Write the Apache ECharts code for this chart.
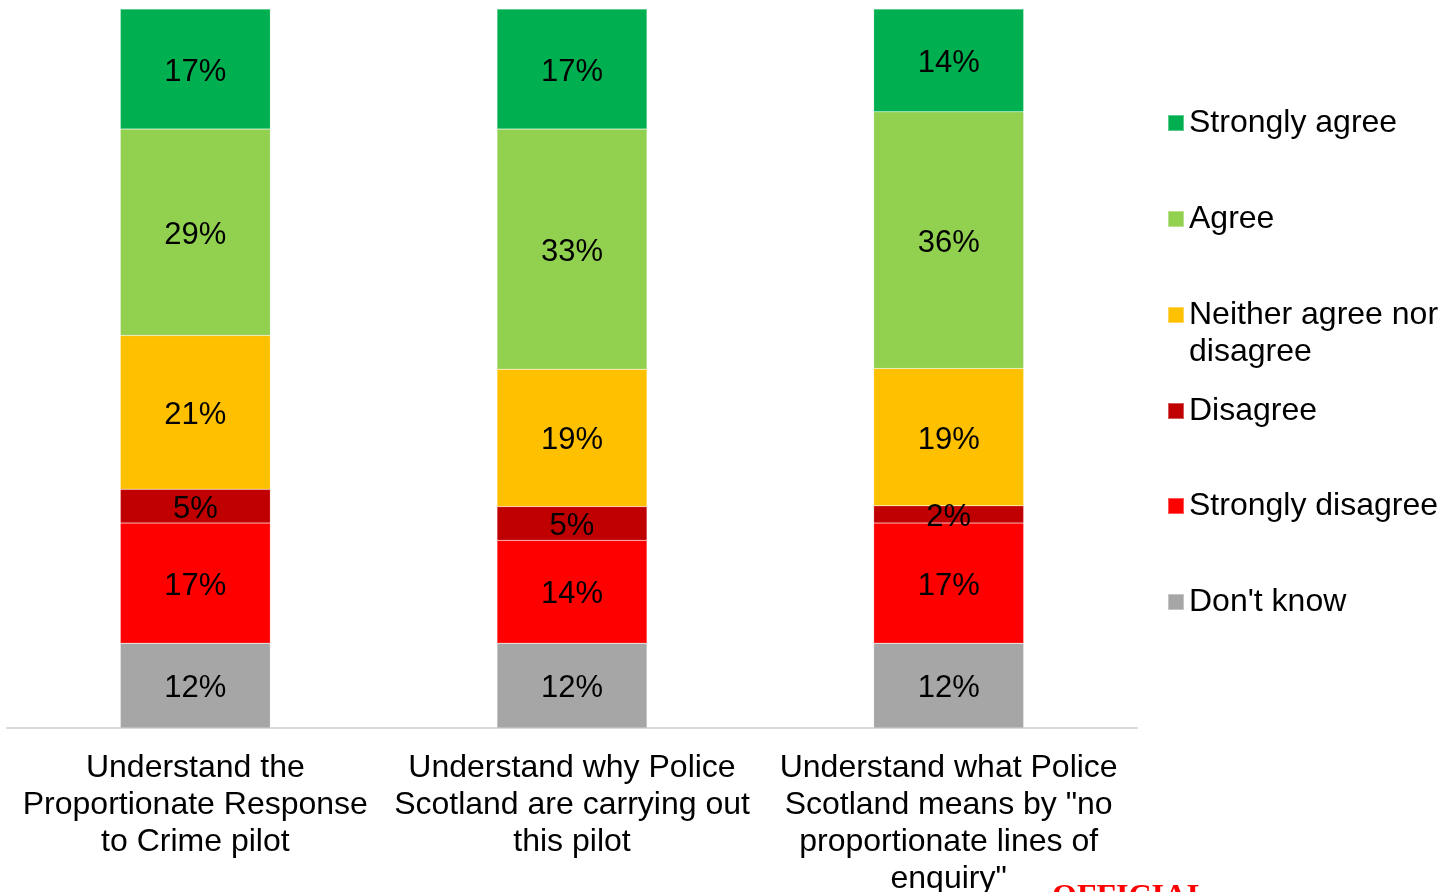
<!DOCTYPE html>
<html><head><meta charset="utf-8">
<script src="https://cdn.jsdelivr.net/npm/echarts@6/dist/echarts.min.js"></script>
<style>html,body{margin:0;padding:0;background:#fff}#c{width:1442px;height:892px}</style>
</head><body><div id="c"></div>
<script>
const categories = [
  "Understand the\nProportionate Response\nto Crime pilot",
  "Understand why Police\nScotland are carrying out\nthis pilot",
  "Understand what Police\nScotland means by \"no\nproportionate lines of\nenquiry\""
];
const seriesNames = ["Don't know","Strongly disagree","Disagree","Neither agree nor disagree","Agree","Strongly agree"];
const dontKnow = [11.8, 11.8, 11.8];
const stronglyDisagree = [16.7, 14.3, 16.7];
const disagree = [4.7, 4.7, 2.4];
const neither = [21.4, 19.1, 19.1];
const agree = [28.7, 33.4, 35.7];
const stronglyAgree = [16.7, 16.7, 14.3];
const values = [dontKnow, stronglyDisagree, disagree, neither, agree, stronglyAgree];
const colors = ["#A6A6A6","#FF0000","#C00000","#FFC000","#92D050","#00B050"];

const font = "'Liberation Sans', Arial, sans-serif";
const chart = echarts.init(document.getElementById('c'));

const series = seriesNames.map((n, i) => ({
  name: n, type: 'bar', stack: 'all', barWidth: 150,
  data: values[i],
  itemStyle: { color: colors[i], borderColor: 'rgba(255,255,255,0.35)', borderWidth: 0.5 },
  label: { show: true, position: 'inside', offset: [0, 3], color: '#000', fontSize: 31, fontFamily: font,
    formatter: p => Math.round(p.value) + '%' },
  emphasis: { disabled: true }
}));

const legendOrder = ["Strongly agree","Agree","Neither agree nor disagree","Disagree","Strongly disagree","Don't know"];
const legendCenters = [121, 217, 313, 409, 504, 600];
const legends = legendOrder.map((n, i) => {
  const two = n === "Neither agree nor disagree";
  return {
    data: [n], left: 1167, top: two ? legendCenters[i] + 2 - 55.5 : legendCenters[i] + 2 - 18.5,
    padding: 0,
    icon: 'rect', itemWidth: 16, itemHeight: 16, itemGap: 0, itemTextGap: 7, selectedMode: false,
    formatter: two ? "\nNeither agree nor\ndisagree" : "{name}",
    textStyle: { fontSize: 32, fontFamily: font, color: '#000', lineHeight: 37 }
  };
});

chart.setOption({
  animation: false,
  color: colors,
  grid: { left: 7, right: 305, top: 9, bottom: 164, containLabel: false, outerBoundsMode: 'none' },
  xAxis: {
    type: 'category', data: categories,
    axisLine: { lineStyle: { color: '#D9D9D9', width: 2 } },
    axisTick: { show: false },
    axisLabel: { color: '#000', fontSize: 32, fontFamily: font, lineHeight: 37, margin: 22, interval: 0 }
  },
  yAxis: { type: 'value', min: 0, max: 100, show: false, splitLine: { show: false } },
  legend: legends,
  series: series,
  graphic: [{
    type: 'text', left: 1052, top: 882,
    style: { text: 'OFFICIAL', fill: '#FF0000', font: "bold 32px 'Liberation Serif', 'Times New Roman', serif" }
  }]
});
</script></body></html>
